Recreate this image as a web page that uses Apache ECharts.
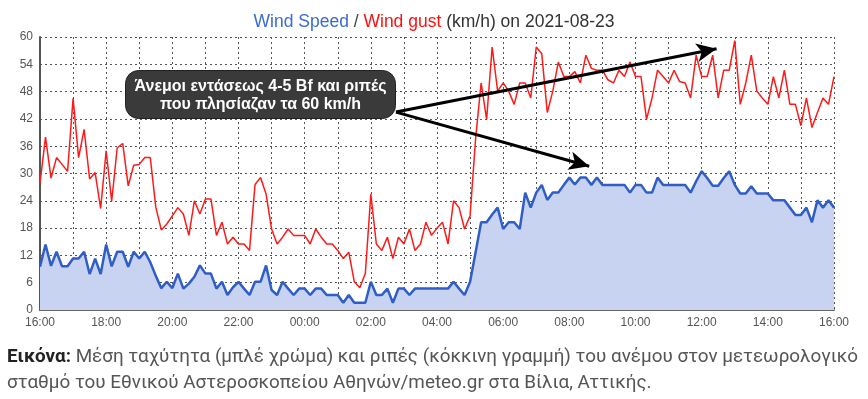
<!DOCTYPE html>
<html>
<head>
<meta charset="utf-8">
<script src="https://cdn.jsdelivr.net/npm/echarts@6/dist/echarts.min.js"></script>
<style>
  html, body { margin: 0; padding: 0; background: #fff; }
  #main { width: 868px; height: 399px; }
</style>
</head>
<body>
<div id="main"></div>
<script>
// 10-minute samples, 16:00 -> 16:00 next day (145 values)
const speedKmh = [
  9.5, 14.4, 9.7, 12.8, 9.6, 9.6, 11.3, 11.3, 12.8, 7.9, 11.3, 7.9,
  14.4, 9.6, 12.8, 12.8, 9.5, 12.8, 11.3, 12.8, 10.5, 7.5, 4.8, 6.2,
  4.8, 8, 4.7, 5.8, 7.3, 9.8, 8, 8, 4.7, 6.2, 3.3, 5,
  6.2, 4.7, 3.3, 6.2, 6.2, 9.8, 4.4, 3.3, 6.2, 4.7, 3.3, 4.7,
  4.7, 3.3, 4.7, 4.7, 3.3, 3.3, 3.3, 1.6, 3.3, 1.6, 1.6, 1.6,
  6.2, 3.3, 3.3, 4.7, 1.6, 4.7, 4.7, 3.3, 4.7, 4.7, 4.7, 4.7,
  4.7, 4.7, 4.7, 6.2, 4.7, 3.3, 6.2, 12.7, 19.3, 19.3, 21, 22.5,
  17.8, 19.3, 19.3, 17.8, 25.8, 22.5, 25.8, 27.5, 24.2, 25.8, 25.8, 27.5,
  29.1, 27.6, 29.1, 29.1, 27.5, 29.1, 27.5, 27.5, 27.5, 27.5, 27.5, 25.8,
  27.5, 27.5, 25.8, 25.8, 29.1, 27.5, 27.5, 27.5, 27.5, 27.5, 25.8, 28.3,
  30.5, 29, 27.3, 27.3, 29, 30.5, 27.5, 25.6, 25.6, 27.2, 25.6, 25.6,
  25.6, 24.1, 24.1, 24.1, 22.5, 20.9, 20.9, 22.5, 19.3, 24.1, 22.5, 24.1,
  22.5
];
const gustKmh = [
  27.9, 38, 29, 33.5, 32, 30.5, 46.5, 33.5, 39.7, 28.8, 30.2, 22.3,
  35, 23.9, 35.6, 36.6, 27.3, 31.8, 32, 33.5, 33.5, 22.6, 17.6, 18.9,
  20.7, 22.5, 21.1, 16.4, 24, 21.1, 24.4, 24.4, 16.4, 19.3, 14.5, 16,
  14.5, 14.5, 13.1, 27.6, 29.1, 25.5, 17.8, 14.5, 16, 17.8, 16.4, 16.4,
  16.4, 14.5, 17.8, 16, 14.5, 14.5, 13.1, 11.3, 12.7, 6.2, 4.9, 8,
  25.5, 14.5, 13.1, 16, 11.3, 16, 14.5, 17.8, 13.1, 14.5, 19.3, 16.4,
  18, 19.3, 14.5, 24, 22.5, 17.8, 20.7, 37.6, 49.9, 41.9, 57.8, 48.1,
  49.9, 48.1, 45.2, 49.9, 49.9, 46.6, 57.8, 56.3, 43.4, 48.1, 54.5, 51.3,
  51.3, 52.4, 49.9, 56, 53.1, 52.7, 52.7, 50.6, 49.9, 52.7, 51.3, 54.5,
  51.3, 51.3, 41.9, 46.6, 52.7, 51.3, 49.9, 52.7, 50.2, 49.9, 46.6, 56,
  51.3, 51.3, 56, 46.6, 52.7, 52.7, 59.2, 45.2, 49.9, 56, 48.1, 46.6,
  45.2, 51.3, 46.6, 52.7, 45.2, 45.2, 40.5, 46.6, 40.1, 43.4, 46.6, 45.2,
  51.3
];
const startHour = 16;       // x axis starts at 16:00
const yTicks = [0, 6, 12, 18, 24, 30, 36, 42, 48, 54, 60];
// annotation arrows, in data coords (hours after 16:00, km/h)
const arrowFrom = [10.76, 43.5];
const arrowTo = [[20.45, 57.4], [16.6, 31.6]];

const captionBold = 'Εικόνα:';
const captionLine1 = 'Μέση ταχύτητα (μπλέ χρώμα) και ριπές (κόκκινη γραμμή) του ανέμου στον μετεωρολογικό';
const captionLine2 = 'σταθμό του Εθνικού Αστεροσκοπείου Αθηνών/meteo.gr στα Βίλια, Αττικής.';

const hours = speedKmh.map((v, i) => i / 6);
const speedData = speedKmh.map((v, i) => [hours[i], v]);
const gustData = gustKmh.map((v, i) => [hours[i], v]);

function pad(n) { return (n < 10 ? '0' : '') + n; }

function textWidth(str, font) {
  const ctx = document.createElement('canvas').getContext('2d');
  ctx.font = font;
  return ctx.measureText(str).width;
}

const capFontB = '700 18px Roboto';
const capFontR = '400 18px Roboto';
const boldW = textWidth(captionBold + ' ', capFontB);
const line1W = boldW + textWidth(captionLine1, capFontR);
const capScale = 851 / line1W;

const chart = echarts.init(document.getElementById('main'), null, { renderer: 'canvas' });

const titleFont = { fontSize: 17.5, fontFamily: 'Liberation Sans', fontWeight: 'normal' };

const option = {
  backgroundColor: '#ffffff',
  animation: false,
  title: {
    left: 'center',
    top: 8,
    text: '{b|Wind Speed}{s| / }{r|Wind gust}{g| (km/h) on 2021-08-23}',
    textStyle: {
      fontWeight: 'normal',
      rich: {
        b: Object.assign({ color: '#3a6ad6' }, titleFont),
        s: Object.assign({ color: '#444' }, titleFont),
        r: Object.assign({ color: '#ff1010' }, titleFont),
        g: Object.assign({ color: '#333' }, titleFont)
      }
    }
  },
  grid: { left: 40, right: 34, top: 37, bottom: 89 },
  xAxis: {
    type: 'value',
    min: 0,
    max: 24,
    interval: 1,
    offset: 2,
    axisLine: { show: true, lineStyle: { color: '#666', width: 2 } },
    axisTick: { show: false },
    axisLabel: {
      color: '#555',
      fontSize: 12,
      fontFamily: 'Liberation Sans',
      margin: 5,
      showMinLabel: true,
      showMaxLabel: true,
      formatter: v => (v % 2 === 0 ? pad((startHour + v) % 24) + ':00' : '')
    },
    splitLine: { show: true, lineStyle: { color: '#555', width: 1, type: [2, 3] } }
  },
  yAxis: {
    type: 'value',
    min: yTicks[0],
    max: yTicks[yTicks.length - 1],
    interval: 6,
    axisLine: { show: true, lineStyle: { color: '#555', width: 2 } },
    axisTick: { show: false },
    axisLabel: { color: '#555', fontSize: 12, fontFamily: 'Liberation Sans', margin: 7 },
    splitLine: { show: true, lineStyle: { color: '#555', width: 1, type: [2, 3] } }
  },
  series: [
    {
      name: 'Wind Speed',
      type: 'line',
      data: speedData,
      symbol: 'none',
      z: 2,
      lineStyle: { color: '#2f5ec6', width: 2.5 },
      areaStyle: { color: '#c7d3f0', opacity: 1 }
    },
    {
      name: 'Wind gust',
      type: 'line',
      data: gustData,
      symbol: 'none',
      z: 3,
      lineStyle: { color: '#ff1a1a', width: 1.5 },
      markLine: {
        silent: true,
        symbol: ['none', 'arrow'],
        symbolSize: [14, 20],
        label: { show: false },
        lineStyle: { color: '#000', width: 3, type: 'solid' },
        data: arrowTo.map(p => [{ coord: arrowFrom }, { coord: p }])
      }
    }
  ],
  graphic: [
    {
      type: 'group',
      left: 125,
      top: 70,
      z: 100,
      children: [
        {
          type: 'rect',
          z: 100,
          shape: { x: 0, y: 0, width: 270, height: 48, r: 13 },
          style: { fill: '#3a3a3a', stroke: '#222', lineWidth: 1 }
        },
        {
          type: 'text',
          z: 101,
          x: 135,
          y: 25,
          style: {
            text: 'Άνεμοι εντάσεως 4-5 Bf και ριπές\nπου πλησίαζαν τα 60 km/h',
            fill: '#fff',
            fontSize: 16,
            fontWeight: 'bold',
            fontFamily: 'Liberation Sans',
            lineHeight: 18,
            align: 'center',
            verticalAlign: 'middle'
          }
        }
      ]
    },
    {
      type: 'group',
      x: 7,
      y: 357,
      scaleX: capScale,
      children: [
        {
          type: 'text',
          x: 0, y: 0,
          style: { text: captionBold, fill: '#222', font: capFontB, verticalAlign: 'middle' }
        },
        {
          type: 'text',
          x: boldW, y: 0,
          style: { text: captionLine1, fill: '#555', font: capFontR, verticalAlign: 'middle' }
        },
        {
          type: 'text',
          x: 0, y: 26,
          style: { text: captionLine2, fill: '#555', font: capFontR, verticalAlign: 'middle' }
        }
      ]
    }
  ]
};

chart.setOption(option);
</script>
</body>
</html>
